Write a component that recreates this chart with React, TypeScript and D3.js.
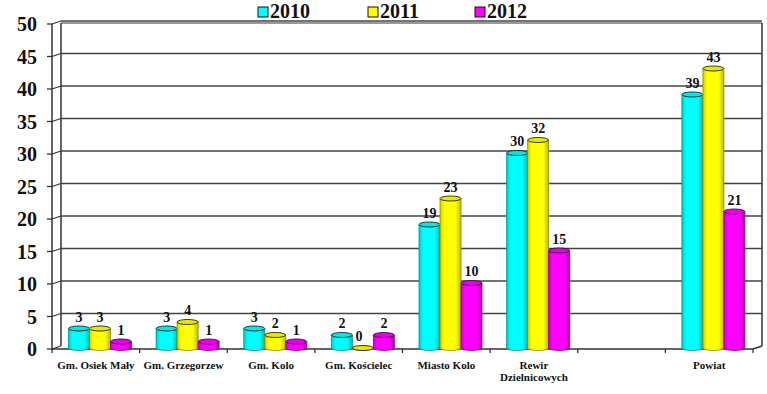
import React from "react";
import * as d3 from "d3";

const categories = [
  "Gm. Osiek Mały",
  "Gm. Grzegorzew",
  "Gm. Kolo",
  "Gm. Kościelec",
  "Miasto Kolo",
  "Rewir|Dzielnicowych",
  "",
  "Powiat",
];
const series = ["2010", "2011", "2012"];
const values2010 = [3, 3, 3, 2, 19, 30, null, 39];
const values2011 = [3, 4, 2, 0, 23, 32, null, 43];
const values2012 = [1, 1, 1, 2, 10, 15, null, 21];
const yTicks = [0, 5, 10, 15, 20, 25, 30, 35, 40, 45, 50];

const colors = ["#00FFFF", "#FFFF00", "#FF00FF"];
const darks = ["#008a8a", "#8a8a00", "#8a008a"];

const W = 767;
const H = 394;
const left = 52;
const right = 753;
const top = 24;
const bottom = 349;
const dx = 9;
const dy = -3;
const font = "Liberation Serif";

export default function App() {
  const all = [values2010, values2011, values2012];
  const x0 = d3.scaleBand().domain(categories.map((_, i) => String(i))).range([left, right]);
  const x1 = d3.scaleBand().domain(series).range([16.5, 16.5 + 63]);
  const y = d3.scaleLinear().domain([0, 50]).range([bottom, top]);
  const bw = x1.bandwidth();
  const ry = 2.5;

  return (
    <svg width={W} height={H} style={{ position: "absolute", left: 0, top: 0 }}>
      <defs>
        {colors.map((c, i) => (
          <linearGradient key={i} id={`g${i}`} x1="0" x2="1" y1="0" y2="0">
            <stop offset="0" stopColor={d3.color(c)!.darker(0.6).toString()} />
            <stop offset="0.2" stopColor={c} />
            <stop offset="0.75" stopColor={c} />
            <stop offset="1" stopColor={d3.color(c)!.darker(0.9).toString()} />
          </linearGradient>
        ))}
      </defs>

      {/* back wall */}
      <line x1={left + dx} x2={right + dx} y1={top - 1} y2={top - 1} stroke="#777" strokeWidth={1.5} />
      <line x1={right + dx} x2={right + dx} y1={top - 1} y2={bottom + dy} stroke="#333" strokeWidth={1.5} />
      <line x1={left + dx} x2={left + dx} y1={top - 1} y2={bottom + dy} stroke="#333" strokeWidth={1.5} />
      <line x1={right} x2={right + dx} y1={bottom} y2={bottom + dy} stroke="#333" strokeWidth={1.5} />

      {/* grid */}
      {yTicks.map((t) => (
        <g key={t}>
          <line x1={left} x2={left + dx} y1={y(t)} y2={y(t) + dy} stroke="#333" strokeWidth={1.3} />
          {t > 0 && (
            <line x1={left + dx} x2={right + dx} y1={y(t) + dy} y2={y(t) + dy} stroke="#444" strokeWidth={1.4} />
          )}
          <line x1={left - 5} x2={left} y1={y(t)} y2={y(t)} stroke="#333" strokeWidth={1.3} />
          <text
            x={37}
            y={y(t)}
            dy="0.35em"
            textAnchor="end"
            fontFamily={font}
            fontWeight="bold"
            fontSize={20}
            fill="#111"
          >
            {t}
          </text>
        </g>
      ))}

      {/* axes */}
      <line x1={left} x2={left} y1={top} y2={bottom} stroke="#333" strokeWidth={1.5} />
      <line x1={left} x2={right} y1={bottom} y2={bottom} stroke="#333" strokeWidth={1.5} />
      {d3.range(categories.length + 1).map((i) => {
        const xv = left + i * x0.bandwidth();
        return <line key={i} x1={xv} x2={xv} y1={bottom} y2={bottom + 4} stroke="#333" strokeWidth={1.3} />;
      })}

      {/* bars */}
      {categories.map((c, ci) => (
        <g key={ci} transform={`translate(${x0(String(ci))},0)`}>
          {series.map((s, si) => {
            const v = all[si][ci];
            if (v === null) return null;
            const bx = x1(s)!;
            const yt = y(v) - 1;
            const yb = bottom - 1;
            return (
              <g key={s}>
                <path
                  d={`M${bx},${yt} L${bx},${yb} A${bw / 2},${ry} 0 0 0 ${bx + bw},${yb} L${bx + bw},${yt}`}
                  fill={`url(#g${si})`}
                  stroke={darks[si]}
                  strokeWidth={0.8}
                />
                <ellipse
                  cx={bx + bw / 2}
                  cy={yt}
                  rx={bw / 2}
                  ry={ry}
                  fill={d3.color(colors[si])!.darker(0.25).toString()}
                  stroke="#222"
                  strokeWidth={0.9}
                />
                <text
                  x={bx + bw / 2 + (v === 0 ? -4 : 0)}
                  y={yt - 7}
                  textAnchor="middle"
                  fontFamily={font}
                  fontWeight="bold"
                  fontSize={14}
                  fill="#111"
                >
                  {v}
                </text>
              </g>
            );
          })}
          {c.split("|").map((line, li) => (
            <text
              key={li}
              x={x0.bandwidth() / 2}
              y={369 + li * 12}
              textAnchor="middle"
              fontFamily={font}
              fontWeight="bold"
              fontSize={11}
              fill="#111"
            >
              {line}
            </text>
          ))}
        </g>
      ))}

      {/* legend */}
      {series.map((s, i) => {
        const lx = [258, 368, 475][i];
        return (
          <g key={s}>
            <rect x={lx} y={7} width={10} height={10} fill={colors[i]} stroke="#111" strokeWidth={1} />
            <text x={lx + 12} y={18} fontFamily={font} fontWeight="bold" fontSize={20} fill="#111">
              {s}
            </text>
          </g>
        );
      })}
    </svg>
  );
}
